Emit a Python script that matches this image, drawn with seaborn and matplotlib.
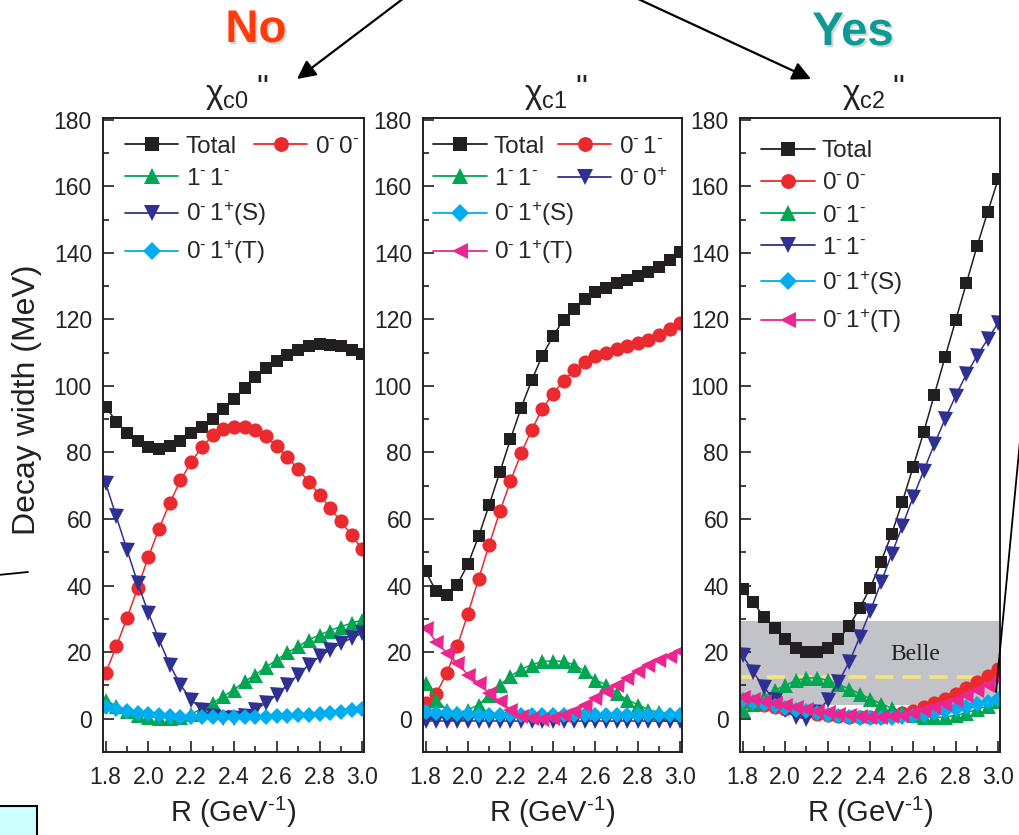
import matplotlib
matplotlib.use("Agg")
import matplotlib.pyplot as plt
import seaborn as sns
from matplotlib.lines import Line2D
from matplotlib.patches import FancyArrowPatch, Rectangle
from matplotlib.ticker import FixedLocator
import matplotlib.patheffects as pe

# ---------------- data ----------------
R = [1.80, 1.85, 1.90, 1.95, 2.00, 2.05, 2.10, 2.15, 2.20, 2.25, 2.30, 2.35, 2.40,
     2.45, 2.50, 2.55, 2.60, 2.65, 2.70, 2.75, 2.80, 2.85, 2.90, 2.95, 3.00]

# chi_c0''
c0_total = [93.8, 89.3, 85.8, 83.3, 81.6, 81.1, 81.8, 83.3, 85.8, 87.8, 90.1, 93.1, 96.2,
            99.4, 102.7, 105.4, 107.4, 109.4, 110.9, 112.1, 112.7, 112.4, 111.9, 110.9, 109.7]
c0_00 = [13.7, 21.7, 30.2, 39.3, 48.6, 57.1, 64.8, 71.6, 77.1, 81.6, 85.1, 87.0, 87.8,
         87.6, 86.8, 84.8, 82.0, 78.6, 75.0, 71.2, 67.3, 63.3, 59.3, 55.1, 51.0]
c0_11 = [5.7, 3.7, 2.2, 1.2, 0.6, 0.3, 0.3, 0.5, 1.4, 3.0, 4.7, 6.7, 8.7,
         11.2, 13.2, 15.5, 17.7, 19.9, 21.7, 23.7, 25.2, 26.5, 27.7, 28.7, 29.7]
c0_01S = [70.8, 60.8, 50.8, 40.8, 31.8, 23.7, 16.2, 10.2, 5.7, 2.7, 0.9, 0.2, 0.2,
          0.7, 2.7, 4.7, 7.2, 10.2, 13.2, 16.2, 18.7, 20.7, 22.7, 24.2, 25.7]
c0_01T = [3.5, 2.8, 2.2, 1.7, 1.3, 1.0, 0.8, 0.6, 0.5, 0.4, 0.4, 0.4, 0.4,
          0.5, 0.5, 0.6, 0.7, 0.9, 1.0, 1.2, 1.5, 1.8, 2.1, 2.5, 2.9]

# chi_c1''
c1_total = [44.3, 38.3, 37.3, 40.3, 46.5, 54.8, 64.3, 74.1, 84.0, 93.4, 101.7, 109.1, 114.9,
            119.9, 123.2, 126.1, 128.1, 129.4, 130.9, 131.9, 132.9, 134.2, 135.6, 137.9, 140.1]
c1_01 = [4.7, 7.5, 13.7, 21.9, 31.6, 42.0, 52.3, 62.3, 71.3, 79.8, 86.8, 93.1, 97.7,
         101.4, 104.9, 107.2, 108.9, 109.9, 111.1, 111.9, 112.9, 113.9, 115.4, 117.1, 118.9]
c1_11 = [10.7, 5.7, 2.7, 1.7, 2.7, 4.2, 7.2, 10.2, 12.7, 14.9, 16.2, 17.2, 17.4,
         17.2, 16.2, 14.2, 11.7, 10.2, 7.7, 5.7, 4.2, 2.7, 1.9, 1.5, 1.3]
c1_00p = [-0.6, -0.6, -0.6, -0.6, -0.6, -0.6, -0.6, -0.6, -0.6, -0.6, -0.6, -0.6, -0.6,
          -0.6, -0.6, -0.6, -0.6, -0.6, -0.6, -0.6, -0.6, -0.6, -0.6, -0.6, -0.6]
c1_01S = [2.0, 1.8, 1.6, 1.4, 1.3, 1.2, 1.1, 1.0, 1.0, 1.0, 1.0, 1.0, 1.0,
          1.0, 1.0, 1.0, 1.0, 1.0, 1.0, 1.0, 1.0, 1.1, 1.1, 1.2, 1.2]
c1_01T = [27.2, 23.2, 19.7, 16.7, 13.2, 10.7, 7.7, 5.2, 2.7, 0.9, 0.2, 0.0, 0.1,
          1.0, 2.3, 4.0, 6.2, 8.2, 10.2, 12.2, 14.2, 16.2, 17.7, 18.9, 20.2]

# chi_c2''
c2_total = [38.9, 35.0, 30.6, 27.2, 23.9, 21.1, 20.0, 20.0, 21.1, 23.9, 27.8, 33.3, 39.4,
            47.2, 55.6, 65.2, 75.6, 86.1, 97.4, 108.6, 119.7, 130.8, 141.9, 152.2, 162.2]
c2_00 = [5.0, 4.5, 4.0, 3.5, 3.0, 2.5, 2.0, 1.5, 1.1, 0.8, 0.5, 0.4, 0.4,
         0.6, 1.0, 1.6, 2.4, 3.4, 4.6, 6.0, 7.5, 9.1, 10.9, 12.9, 15.0]
c2_01 = [2.5, 4.5, 6.5, 8.5, 10.0, 11.5, 12.2, 12.3, 11.5, 10.3, 9.0, 7.5, 6.0,
         4.5, 3.2, 2.1, 1.2, 0.6, 0.4, 0.5, 1.0, 1.8, 2.8, 3.9, 5.2]
c2_11 = [19.0, 14.0, 9.5, 5.5, 2.5, 0.5, 0.0, 2.0, 5.6, 11.0, 17.0, 24.5, 32.5,
         41.0, 49.5, 58.0, 66.5, 74.5, 82.5, 90.0, 97.0, 103.5, 109.0, 114.0, 119.0]
c2_01S = [5.5, 5.0, 4.5, 3.9, 3.3, 2.7, 2.2, 1.7, 1.2, 0.8, 0.5, 0.3, 0.2,
          0.2, 0.3, 0.5, 0.8, 1.2, 1.7, 2.3, 2.9, 3.6, 4.3, 5.1, 6.0]
c2_01T = [6.5, 6.0, 5.4, 4.8, 4.2, 3.6, 3.0, 2.4, 1.9, 1.4, 1.0, 0.7, 0.5,
          0.5, 0.7, 1.1, 1.7, 2.5, 3.4, 4.5, 5.7, 7.0, 8.5, 10.2, 12.0]

belle_low, belle_high, belle_central = 4.0, 29.5, 12.5

titles = [r'$\chi_{\mathrm{c0}}$', r'$\chi_{\mathrm{c1}}$', r'$\chi_{\mathrm{c2}}$']
title_mark = '"'
xticks = [1.8, 2.0, 2.2, 2.4, 2.6, 2.8, 3.0]
xtick_labels = ['1.8', '2.0', '2.2', '2.4', '2.6', '2.8', '3.0']
yticks = [0, 20, 40, 60, 80, 100, 120, 140, 160, 180]

# ---------------- style ----------------
sns.set_theme(style="white")
plt.rcParams['font.family'] = ['Liberation Sans', 'DejaVu Sans']
plt.rcParams['mathtext.fontset'] = 'custom'
plt.rcParams['mathtext.rm'] = 'Liberation Sans'
plt.rcParams['mathtext.it'] = 'Liberation Sans'
plt.rcParams['mathtext.bf'] = 'Liberation Sans:bold'

BLACK = '#231f20'
RED = '#ea2a2e'
GREEN = '#00a651'
NAVY = '#2e3192'
CYAN = '#00aeef'
MAGENTA = '#ec268f'

STY = {
    'k': dict(color=BLACK, marker='s', ms=9.3),
    'r': dict(color=RED, marker='o', ms=10.2),
    'g': dict(color=GREEN, marker='^', ms=10.8),
    'b': dict(color=NAVY, marker='v', ms=10.8),
    'c': dict(color=CYAN, marker='D', ms=8.4),
    'm': dict(color=MAGENTA, marker='<', ms=10.8),
}

HY = '\u2010'  # short hyphen used as superscript "-"
L_00 = r'$0^{%s}\,0^{%s}$' % (HY, HY)
L_01 = r'$0^{%s}\,1^{%s}$' % (HY, HY)
L_11 = r'$1^{%s}\,1^{%s}$' % (HY, HY)
L_00p = r'$0^{%s}\,0^{+}$' % HY
L_S = r'$0^{%s}\,1^{+}$(S)' % HY
L_T = r'$0^{%s}\,1^{+}$(T)' % HY

panels = [
    [('Total', c0_total, 'k'), (L_00, c0_00, 'r'), (L_11, c0_11, 'g'),
     (L_S, c0_01S, 'b'), (L_T, c0_01T, 'c')],
    [('Total', c1_total, 'k'), (L_01, c1_01, 'r'), (L_11, c1_11, 'g'),
     (L_00p, c1_00p, 'b'), (L_S, c1_01S, 'c'), (L_T, c1_01T, 'm')],
    [('Total', c2_total, 'k'), (L_00, c2_00, 'r'), (L_01, c2_01, 'g'),
     (L_11, c2_11, 'b'), (L_S, c2_01S, 'c'), (L_T, c2_01T, 'm')],
]
# legend layout: (column A idx, column B idx, xA, xB, ytop)
legend_layout = [
    ([0, 2, 3, 4], [1], 0.084, 0.578, 0.972),
    ([0, 2, 4, 5], [1, 3], 0.039, 0.521, 0.972),
    ([0, 1, 2, 3, 4, 5], [], 0.081, None, 0.965),
]

W, H = 1019, 835
fig = plt.figure(figsize=(W / 100, H / 100), dpi=100)
fig.patch.set_facecolor('white')


def rect(l, r, t=118, b=752):
    return [l / W, (H - b) / H, (r - l) / W, (b - t) / H]


axes = [fig.add_axes(rect(103, 364)), fig.add_axes(rect(423, 682)), fig.add_axes(rect(740, 1000))]

for i, (ax, series) in enumerate(zip(axes, panels)):
    ax.set_facecolor('white')
    if i == 2:
        ax.axhspan(belle_low, belle_high, color='#c1c3c8', lw=0, zorder=0.5)
        ax.axhline(belle_central, color='#f6e47a', lw=2.6, ls=(0, (5, 2.5)), zorder=0.8)
        ax.text(2.61, 19.2, 'Belle', family='Liberation Serif', fontsize=17,
                ha='center', va='center', color=BLACK, zorder=0.9)
    handles = []
    for label, vals, key in series:
        s = STY[key]
        sns.lineplot(x=R, y=vals, ax=ax, color=s['color'], marker=s['marker'],
                     markersize=s['ms'], markeredgewidth=0, linewidth=1.1,
                     estimator=None, sort=False, legend=False)
        handles.append(Line2D([], [], color=s['color'], marker=s['marker'],
                              markersize=s['ms'] + 0.5, markeredgewidth=0, linewidth=1.3))
    labels = [lab for lab, _, _ in series]

    idxA, idxB, xA, xB, ytop = legend_layout[i]
    common = dict(loc='upper left', frameon=False, borderpad=0, borderaxespad=0,
                  handlelength=2.2, handletextpad=0.3, labelspacing=0.42,
                  fontsize=17.5, numpoints=1)
    legA = ax.legend([handles[k] for k in idxA], [labels[k] for k in idxA],
                     bbox_to_anchor=(xA, ytop), **common)
    if idxB:
        ax.add_artist(legA)
        ax.legend([handles[k] for k in idxB], [labels[k] for k in idxB],
                  bbox_to_anchor=(xB, ytop), **common)

    ax.set_xlim(1.788, 3.008)
    ax.set_ylim(-10, 180.5)
    ax.set_xticks(xticks)
    ax.set_xticklabels(xtick_labels)
    ax.xaxis.set_minor_locator(FixedLocator([1.9, 2.1, 2.3, 2.5, 2.7, 2.9]))
    ax.set_yticks(yticks)
    ax.yaxis.set_minor_locator(FixedLocator([10, 30, 50, 70, 90, 110, 130, 150, 170]))
    ax.tick_params(which='major', direction='in', length=8, width=1.2, labelsize=16.5,
                   top=False, right=False, bottom=True, left=True, colors=BLACK,
                   labelcolor='#222222')
    ax.tick_params(axis='x', which='major', pad=10)
    ax.tick_params(axis='y', which='major', pad=8)
    ax.tick_params(which='minor', direction='in', length=4, width=1.2,
                   top=False, right=False, bottom=True, left=True, colors=BLACK)
    for sp in ax.spines.values():
        sp.set_visible(True)
        sp.set_color(BLACK)
        sp.set_linewidth(1.4)
    ax.text(0.475, 1.010, titles[i], transform=ax.transAxes, fontsize=24,
            ha='center', va='bottom', color='#222222')
    ax.text(0.61, 1.021, title_mark, transform=ax.transAxes, fontsize=24,
            ha='center', va='bottom', color='#222222')
    ax.set_xlabel(r'R (GeV$^{%s1}$)' % HY, fontsize=21, color='#222222')
    ax.xaxis.set_label_coords(0.5, -0.095)
    ax.xaxis.label.set_va('center')
    if i == 0:
        ax.set_ylabel('Decay width (MeV)', fontsize=23, color='#222222')
        ax.yaxis.set_label_coords(-0.29, 0.555)
        ax.yaxis.label.set_va('center')
    else:
        ax.set_ylabel('')

# ---------------- annotations ----------------
shadow = [pe.SimplePatchShadow(offset=(1.5, -1.5), shadow_rgbFace='#999999', alpha=0.4), pe.Normal()]
fig.text(256 / W, 1 - 30 / H, 'No', ha='center', va='center', fontsize=33,
         weight='bold', color='#ff3b0a', path_effects=shadow)
fig.text(853 / W, 1 - 33 / H, 'Yes', ha='center', va='center', fontsize=34,
         weight='bold', color='#0d9a96', path_effects=shadow)

for (x0, y0), (x1, y1) in [((404, -2), (297, 79)), ((636, -2), (811, 79))]:
    fig.add_artist(FancyArrowPatch((x0 / W, 1 - y0 / H), (x1 / W, 1 - y1 / H),
                                   transform=fig.transFigure, arrowstyle='-|>',
                                   mutation_scale=28, lw=1.6, color='black',
                                   shrinkA=0, shrinkB=0))

fig.add_artist(Line2D([996 / W, 1022 / W], [1 - 692 / H, 1 - 420 / H],
                      transform=fig.transFigure, color='black', lw=1.3))
fig.add_artist(Line2D([-2 / W, 28 / W], [1 - 575 / H, 1 - 572 / H],
                      transform=fig.transFigure, color='black', lw=1.3))
fig.add_artist(Rectangle((-5 / W, -5 / H), 42 / W, (29 + 5) / H, transform=fig.transFigure,
                         facecolor='#ccffff', edgecolor='black', lw=1.5))

fig.savefig('out.png', dpi=100, facecolor='white')
